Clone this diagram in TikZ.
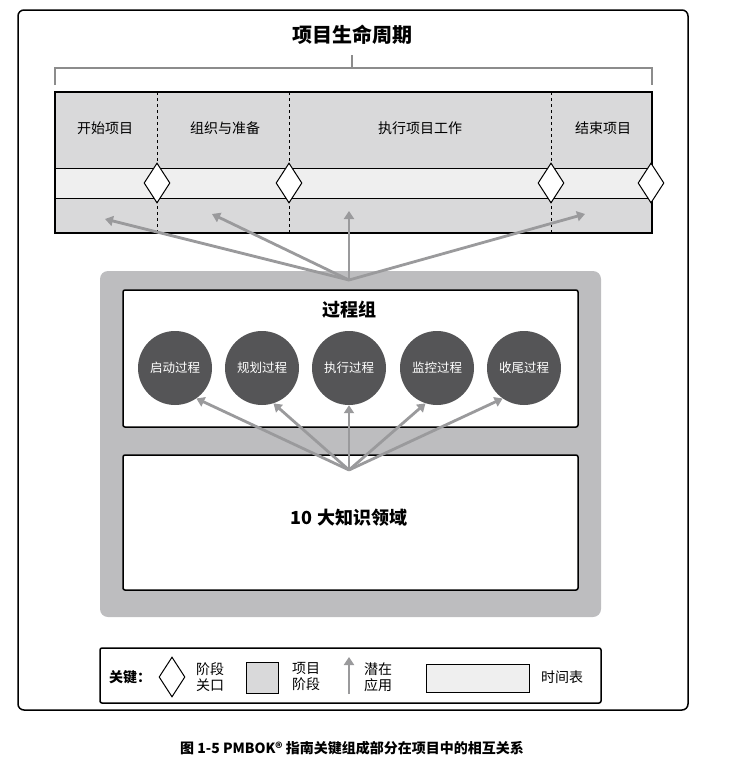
\documentclass[tikz,border=0pt]{standalone}
\usepackage{fontspec}
\setmainfont{Noto Sans CJK SC}
\usetikzlibrary{shapes.geometric,arrows.meta}
\definecolor{phasegray}{HTML}{D9D9DA}
\definecolor{stripgray}{HTML}{EFEFEF}
\definecolor{boxgray}{HTML}{BDBDBF}
\definecolor{circgray}{HTML}{555557}
\definecolor{arrgray}{HTML}{9A9A9C}
\tikzset{
  gate/.style={diamond, draw, fill=white, line width=1pt, minimum width=26pt, minimum height=40pt, inner sep=0pt},
  proc/.style={circle, fill=circgray, text=white, minimum size=74pt, inner sep=0pt, font=\fontsize{12.5}{12.5}\selectfont},
  pot/.style={line width=2.8pt, arrgray, -{Triangle[length=8pt,width=10pt]}},
  lab/.style={font=\fontsize{14}{16}\selectfont, align=left}
}
\begin{document}
\begin{tikzpicture}[x=1pt,y=-1pt]
			\useasboundingbox (0,0) rectangle (738,761);
			% Frame and title
			\draw[line width=1.5pt, rounded corners=6pt] (18,10) rectangle (688,710);
			\node[font=\fontsize{20}{20}\selectfont\bfseries] (life) at (352,35) {项目生命周期};
			\draw[line width=2.2pt, black!45] (55,85) -- (55,68) -- (652,68) -- (652,85);
			\draw[line width=2.2pt, black!45] (352,68) -- (352,55);

			% Phases
			\fill[phasegray] (55,92) rectangle (652,233);
			\fill[stripgray] (55,168) rectangle (652,198);
			\draw[line width=0.8pt] (55,168) -- (652,168) (55,198) -- (652,198);
			\draw[line width=1.5pt] (55,92) rectangle (652,233);
			\foreach \x in {157,289,551}
				\draw[dashed, line width=0.7pt] (\x,92) -- (\x,233);
			\foreach \x/\n in {157/g1,289/g2,551/g3,651/g4}
				\node[gate] (\n) at (\x,183) {};
			\node[lab] (p1) at (105,128) {开始项目};
			\node[lab] (p2) at (225,128) {组织与准备};
			\node[lab] (p3) at (420,128) {执行项目工作};
			\node[lab] (p4) at (603,128) {结束项目};
			\coordinate (t1) at (105,219);
			\coordinate (t2) at (212,214);
			\coordinate (t3) at (349,211);
			\coordinate (t4) at (585,214);

			% Process groups
			\fill[boxgray, rounded corners=8pt] (100,271) rectangle (601,617);
			\draw[fill=white, line width=1.5pt, rounded corners=2pt] (123,290) rectangle (578,427);
			\draw[fill=white, line width=1.5pt, rounded corners=2pt] (123,455) rectangle (578,590);
			\node[font=\fontsize{18}{18}\selectfont\bfseries] (pg) at (349,310) {过程组};
			\foreach \x/\n/\t in {175/c1/启动过程,262/c2/规划过程,349/c3/执行过程,437/c4/监控过程,524/c5/收尾过程}
				\node[proc] (\n) at (\x,368) {\t};
			\node[font=\fontsize{18}{18}\selectfont\bfseries] (ka) at (349,518) {10 大知识领域};
			\coordinate (hub) at (349,280);
			\coordinate (hub2) at (349,470);

			% Potential use arrows
			\foreach \n in {t1,t2,t3,t4}
				\draw[pot] (hub) -- (\n);
			\foreach \n/\a in {c1/-55,c2/-72,c3/-90,c4/-108,c5/-125}
				\draw[pot] (hub2) -- (\n.\a);

			% Key
			\draw[line width=1.5pt, rounded corners=2pt] (100,648) rectangle (601,703);
			\node[lab, font=\fontsize{14}{16}\selectfont\bfseries] (key) at (130,677) {关键：};
			\node[gate] (kg) at (172,677) {};
			\node[lab] (kgl) at (210,677) {阶段\\关口};
			\draw[fill=phasegray, line width=1pt] (246,662) rectangle (278,693);
			\node[lab] (kpl) at (306,677) {项目\\阶段};
			\coordinate (ka0) at (349,694);
			\coordinate (ka1) at (349,657);
			\draw[pot] (ka0) -- (ka1);
			\node[lab] (kal) at (378,677) {潜在\\应用};
			\draw[fill=stripgray, line width=1pt] (426,664) rectangle (529,692);
			\node[lab] (ktl) at (562,677) {时间表};

			% Caption
			\node[font=\fontsize{14}{14}\selectfont\bfseries] (cap) at (352,748) {图 1-5 PMBOK® 指南关键组成部分在项目中的相互关系};
\end{tikzpicture}
\end{document}
